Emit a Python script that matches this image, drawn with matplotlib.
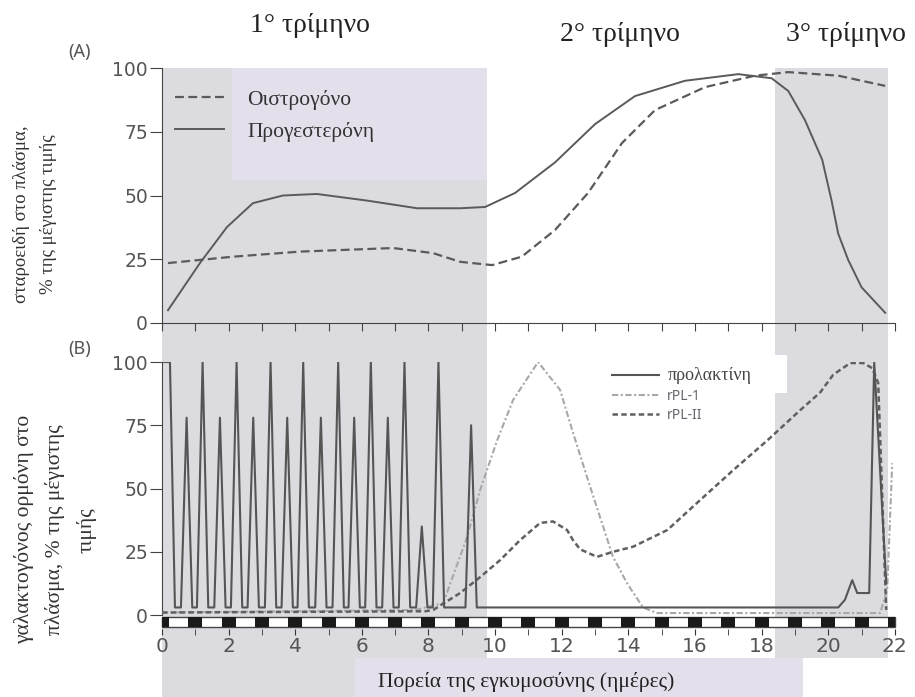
import numpy as np
import matplotlib.pyplot as plt
from matplotlib.patches import Rectangle
from matplotlib import transforms

# ---- (A) στεροειδή στο πλάσμα ----
prog_days = [0.18, 1.14, 1.95, 2.73, 3.63, 4.65, 6.16, 7.66, 8.95, 9.70, 10.6, 11.8,
             13.0, 14.2, 15.7, 17.3, 18.3, 18.8, 19.3, 19.82, 20.1, 20.3, 20.6, 21.0, 21.71]
prog_vals = [5, 23.5, 37.6, 47, 50, 50.6, 48, 45, 45, 45.5, 51, 63,
             78, 89, 95, 97.6, 96, 91, 79.6, 64, 48, 35, 24.7, 14, 4]
estr_days = [0.18, 2.13, 4.14, 6.94, 8.14, 8.95, 9.91, 10.8, 11.8, 12.79, 13.81,
             14.8, 16.3, 17.8, 18.8, 20.3, 21.71]
estr_vals = [23.5, 26, 28, 29.4, 27.4, 24, 22.7, 26, 36.5, 51, 70.6,
             83.5, 92.5, 97, 98.4, 97, 93]

# ---- (B) γαλακτογόνες ορμόνες ----
# παλμοί προλακτίνης (ημέρα κορυφής, ύψος κορυφής)
pulse_days = [0.74, 1.22, 1.74, 2.24, 2.74, 3.26, 3.76, 4.24, 4.77, 5.29, 5.77,
              6.27, 6.78, 7.28, 7.80, 8.30, 9.28]
pulse_vals = [78, 100, 78, 100, 78, 100, 78, 100, 78, 100, 78,
              100, 78, 100, 35, 100, 75]
prl_base = 3
prl_start_days = [0, 0.24, 0.39]
prl_start_vals = [100, 100, prl_base]
prl_end_days = [20.3, 20.5, 20.72, 20.87, 21.23, 21.38, 21.74]
prl_end_vals = [prl_base, 6, 13.8, 8.7, 8.7, 100, 12.6]

rpl1_days = [0, 7.6, 8.44, 9.16, 9.55, 10.06, 10.54, 11.29, 11.95, 12.34, 12.76,
             13.15, 13.54, 13.96, 14.44, 14.86, 21.56, 21.77, 21.92]
rpl1_vals = [1, 2, 4.7, 30.8, 49.4, 69, 85, 100, 89, 72, 54.5,
             38.7, 23, 12.6, 3, 0.8, 0.8, 10, 60]
rpl2_days = [0, 7.9, 8.14, 8.95, 9.55, 10.15, 10.75, 11.35, 11.74, 12.16, 12.34,
             12.55, 13.06, 13.54, 14.14, 15.17, 16.16, 17.15, 18.17, 19.16, 19.76,
             20.15, 20.66, 21.05, 21.32, 21.5, 21.74]
rpl2_vals = [1, 1.5, 2, 8.7, 15, 21.7, 29.6, 36.4, 37, 33.6, 29.6,
             26, 23, 25, 27, 33.6, 45.5, 57.3, 69, 81, 88,
             95, 99.6, 99.6, 97.6, 91.7, 2]

# τρίμηνα (σκιασμένες περιοχές)
tri1 = (0, 9.76)
tri3 = (18.4, 21.8)

yticks = [0, 25, 50, 75, 100]

# σειρά σημείων προλακτίνης
half = 0.17
prl_days = list(prl_start_days)
prl_vals = list(prl_start_vals)
for d, v in zip(pulse_days, pulse_vals):
    prl_days += [d - half, d, d + half]
    prl_vals += [prl_base, v, prl_base]
prl_days += prl_end_days
prl_vals += prl_end_vals

GRAY = '#dcdce0'
LAV = '#e4e0eb'
TXT = '#555555'
serif = ['Liberation Serif', 'DejaVu Serif']
sans = ['Noto Sans', 'DejaVu Sans']

fig = plt.figure(figsize=(9.15, 6.97), dpi=100)
ax1 = fig.add_axes([0.177, 0.5366, 0.801, 0.3658])
ax2 = fig.add_axes([0.177, 0.0976, 0.801, 0.383])
for ax in (ax1, ax2):
    ax.set_facecolor('none')
    ax.set_xlim(0, 22)
    for s in ('top', 'right'):
        ax.spines[s].set_visible(False)
    ax.spines['left'].set_color('#444444')
    ax.spines['bottom'].set_color('#444444')

# σκίαση τριμήνων (σε επίπεδο figure)
tr = transforms.blended_transform_factory(ax2.transData, fig.transFigure)
fig.add_artist(Rectangle((tri1[0], 0), tri1[1] - tri1[0], 0.9024, transform=tr,
                         facecolor=GRAY, edgecolor='none', zorder=-5))
fig.add_artist(Rectangle((tri3[0], 0.056), tri3[1] - tri3[0], 0.9024 - 0.056,
                         transform=tr, facecolor=GRAY, edgecolor='none', zorder=-5))
# πλαίσιο για τον τίτλο του άξονα x
fig.add_artist(Rectangle((0.388, 0), 0.49, 0.056, transform=fig.transFigure,
                         facecolor=LAV, edgecolor='none', zorder=-4))

# ---------- (A) ----------
ax1.add_patch(Rectangle((2.1, 56), tri1[1] - 2.1, 44, facecolor=LAV,
                        edgecolor='none', zorder=0))
ax1.plot(estr_days, estr_vals, color='#5a5a5a', lw=1.6, ls=(0, (4, 2)),
         label='Οιστρογόνο', zorder=3)
ax1.plot(prog_days, prog_vals, color='#5a5a5a', lw=1.4, label='Προγεστερόνη',
         zorder=3)
ax1.set_ylim(0, 100)
ax1.set_yticks(yticks)
ax1.set_xticks(np.arange(0, 23))
ax1.set_xticklabels([])
ax1.tick_params(axis='x', direction='out', length=6, color='#444444')
ax1.tick_params(axis='y', length=9, color='#444444', pad=1,
                labelsize=13.5, labelcolor=TXT)
ax1.spines['left'].set_bounds(0, 100)
leg1 = ax1.legend(loc='upper left', bbox_to_anchor=(0.39, 91.5),
                  bbox_transform=ax1.transData, frameon=False, borderpad=0,
                  borderaxespad=0, handlelength=2.3, handletextpad=1.05,
                  labelspacing=0.55, prop={'family': serif, 'size': 15.5})
for t in leg1.get_texts():
    t.set_color('#333333')

# ---------- (B) ----------
ax2.add_patch(Rectangle((13.36, 87.7), 18.77 - 13.36, 15.1, facecolor='white',
                        edgecolor='none', zorder=1, clip_on=False))
ax2.plot(prl_days, prl_vals, color='#555555', lw=1.5, label='προλακτίνη', zorder=4)
ax2.plot(rpl1_days, rpl1_vals, color='#a8a8a8', lw=1.5,
         ls=(0, (3, 1.2, 1, 1.2)), label='rPL-1', zorder=3)
ax2.plot(rpl2_days, rpl2_vals, color='#606060', lw=1.8, ls=(0, (2.2, 1.3)),
         label='rPL-II', zorder=3)
ax2.set_ylim(-5.5, 100)
ax2.set_yticks(yticks)
ax2.spines['left'].set_bounds(0, 100)
ax2.spines['bottom'].set_visible(False)
# ζώνη ημέρας / νύχτας
ax2.add_patch(Rectangle((0, -4.7), 22, 3.9, facecolor='white', edgecolor='#444444',
                        lw=1, zorder=2, clip_on=False))
ax2.bar(np.arange(0, 23), 3.9, bottom=-4.7, width=0.42, color='#1a1a1a', zorder=3)
ax2.set_xticks(np.arange(0, 23, 2))
ax2.set_xticks(np.arange(0, 23), minor=True)
ax2.tick_params(axis='x', which='both', direction='out', length=4, color='#333333')
ax2.tick_params(axis='x', which='major', labelsize=14.5, labelcolor=TXT, pad=2)
ax2.tick_params(axis='y', length=9, color='#444444', pad=1,
                labelsize=13.5, labelcolor=TXT)
leg2 = ax2.legend(loc='upper left', bbox_to_anchor=(13.5, 98),
                  bbox_transform=ax2.transData, frameon=False, borderpad=0,
                  borderaxespad=0, handlelength=3.4, handletextpad=0.6,
                  labelspacing=0.32, prop={'family': sans, 'size': 10})
for t in leg2.get_texts():
    t.set_color('#666670')
leg2.get_texts()[0].set_family(serif)
leg2.get_texts()[0].set_fontsize(13)
leg2.get_texts()[0].set_color('#444444')
leg2.set_zorder(5)

# ---------- κείμενα ----------
fig.text(0.339, 0.964, '1° τρίμηνο', ha='center', va='center', family=serif,
         fontsize=20, color='#222222')
fig.text(0.677, 0.950, '2° τρίμηνο', ha='center', va='center', family=serif,
         fontsize=20, color='#222222')
fig.text(0.925, 0.950, '3° τρίμηνο', ha='center', va='center', family=serif,
         fontsize=20, color='#222222')
fig.text(0.087, 0.925, '(A)', ha='center', va='center', family=sans,
         fontsize=13, color=TXT)
fig.text(0.087, 0.499, '(B)', ha='center', va='center', family=sans,
         fontsize=13, color=TXT)
fig.text(0.087, -0.012, '(Γ)', ha='center', va='center', family=sans,
         fontsize=13, color=TXT)
fig.text(0.038, 0.692, 'σταροειδή στο πλάσμα,\n% της μέγιστης τιμής', rotation=90,
         ha='center', va='center', family=serif, fontsize=13.5, linespacing=1.8,
         color='#333333')
fig.text(0.06, 0.24, 'γαλακτογόνος ορμόνη στο\nπλάσμα, % της μέγιστης\nτιμής',
         rotation=90, ha='center', va='center', family=serif, fontsize=15.5,
         linespacing=1.75, color='#333333')
fig.text(0.575, 0.021, 'Πορεία της εγκυμοσύνης (ημέρες)', ha='center', va='center',
         family=serif, fontsize=15.5, color='#222222')

fig.savefig('out.png', dpi=100)
